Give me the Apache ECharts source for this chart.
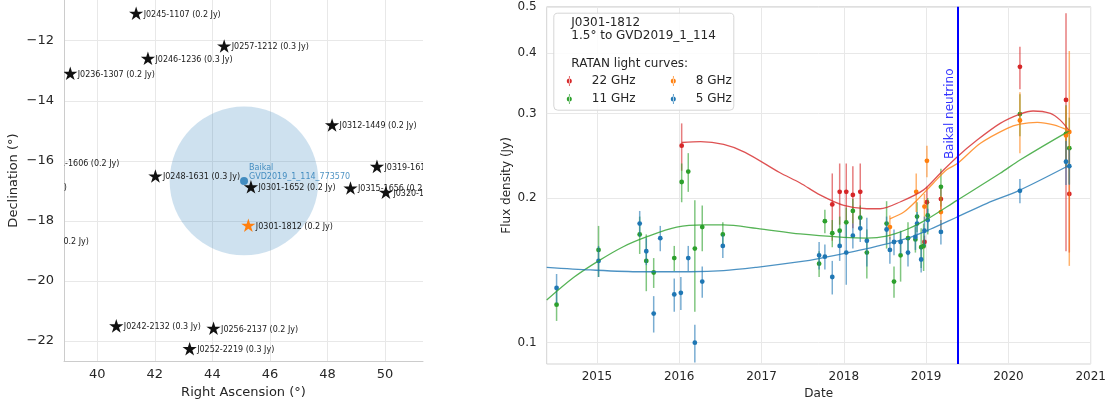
<!DOCTYPE html>
<html>
<head>
<meta charset="utf-8">
<script src="https://cdn.jsdelivr.net/npm/echarts@6.0.0/dist/echarts.min.js"></script>
<style>
  html, body { margin: 0; padding: 0; background: #fff; }
  #chart { width: 1111px; height: 409px; }
</style>
</head>
<body>
<div id="chart"></div>
<script>
const FONT = 'DejaVu Sans';
const TEXT = '#262626';
const GRID = '#e8e8e8';
const SPINE = '#cccccc';

// 左图：GVD2019_1_114 周围的射电源
const starNames = ['J0245-1107', 'J0257-1212', 'J0246-1236', 'J0236-1307', 'J0312-1449', 'J0319-1612',
  'J0248-1631', 'J0301-1652', 'J0315-1656', 'J0320-1704', 'J0242-2132', 'J0256-2137', 'J0252-2219',
  'J0231-1606', 'J0224-1654', 'J0227-1840'];
const starFlux = [0.2, 0.3, 0.3, 0.2, 0.2, 0.2, 0.3, 0.2, 0.2, 0.2, 0.3, 0.2, 0.3, 0.2, 0.2, 0.2];
const starRA = [41.35, 44.41, 41.76, 39.06, 48.16, 49.72, 42.02, 45.34, 48.80, 50.03, 40.66, 44.04, 43.21,
  37.83, 36.00, 36.77];
const starDec = [-11.11, -12.20, -12.61, -13.11, -14.83, -16.21, -16.53, -16.89, -16.93, -17.07, -21.52,
  -21.60, -22.28, -16.08, -16.90, -18.67];
const targetName = 'J0301-1812';
const targetFlux = 0.2;
const targetRA = 45.25;
const targetDec = -18.17;
const baikalName = 'GVD2019_1_114_773570';
const baikalRA = 45.10;
const baikalDec = -16.67;
const baikalRadius = 2.53;
const raTicks = [40, 42, 44, 46, 48, 50];
const decTicks = [-22, -20, -18, -16, -14, -12];

// 右图：RATAN 光变曲线
const yrs22 = [2016.03, 2017.86, 2017.95, 2018.03, 2018.11, 2018.20, 2018.98, 2019.01, 2019.18, 2020.14, 2020.70, 2020.74];
const flux22 = [0.257, 0.194, 0.206, 0.206, 0.203, 0.206, 0.162, 0.196, 0.199, 0.375, 0.320, 0.204];
const err22 = [0.029, 0.031, 0.030, 0.030, 0.030, 0.030, 0.005, 0.015, 0.010, 0.038, 0.165, 0.050];

const yrs11 = [2014.51, 2015.02, 2015.52, 2015.60, 2015.69, 2015.94, 2016.03, 2016.11, 2016.19, 2016.28,
  2016.53, 2017.70, 2017.77, 2017.86, 2017.95, 2018.03, 2018.11, 2018.20, 2018.28, 2018.52,
  2018.61, 2018.69, 2018.78, 2018.87, 2018.89, 2018.94, 2018.97, 2019.02, 2019.18, 2020.14,
  2020.70, 2020.74];
const flux11 = [0.120, 0.156, 0.168, 0.148, 0.140, 0.150, 0.216, 0.227, 0.157, 0.174,
  0.168, 0.146, 0.179, 0.169, 0.171, 0.178, 0.188, 0.182, 0.154, 0.177,
  0.134, 0.152, 0.165, 0.164, 0.183, 0.158, 0.159, 0.184, 0.211, 0.299,
  0.272, 0.254];
const err11 = [0.009, 0.019, 0.015, 0.020, 0.010, 0.009, 0.020, 0.021, 0.041, 0.019,
  0.010, 0.009, 0.010, 0.011, 0.012, 0.013, 0.011, 0.011, 0.018, 0.020,
  0.010, 0.018, 0.013, 0.010, 0.013, 0.015, 0.018, 0.016, 0.019, 0.030,
  0.040, 0.040];

const yrs8 = [2018.56, 2018.88, 2018.98, 2019.01, 2019.18, 2020.14, 2020.70, 2020.74];
const flux8 = [0.174, 0.206, 0.192, 0.239, 0.187, 0.290, 0.270, 0.2745];
const err8 = [0.010, 0.019, 0.012, 0.018, 0.015, 0.042, 0.040, 0.130];

const yrs5 = [2014.51, 2015.02, 2015.52, 2015.60, 2015.69, 2015.77, 2015.94, 2016.02, 2016.11, 2016.19,
  2016.28, 2016.53, 2017.70, 2017.77, 2017.86, 2017.95, 2018.03, 2018.11, 2018.20, 2018.28,
  2018.52, 2018.56, 2018.61, 2018.69, 2018.78, 2018.87, 2018.89, 2018.94, 2018.98, 2019.02,
  2019.18, 2020.14, 2020.70, 2020.74];
const flux5 = [0.130, 0.148, 0.177, 0.155, 0.115, 0.165, 0.126, 0.127, 0.150, 0.100,
  0.134, 0.159, 0.152, 0.151, 0.137, 0.159, 0.154, 0.167, 0.173, 0.163,
  0.172, 0.156, 0.162, 0.162, 0.154, 0.166, 0.177, 0.149, 0.171, 0.180,
  0.170, 0.207, 0.238, 0.233];
const err5 = [0.009, 0.011, 0.011, 0.010, 0.010, 0.010, 0.010, 0.010, 0.009, 0.009,
  0.010, 0.009, 0.010, 0.009, 0.011, 0.011, 0.022, 0.010, 0.011, 0.019,
  0.011, 0.010, 0.010, 0.009, 0.010, 0.010, 0.010, 0.009, 0.012, 0.010,
  0.010, 0.012, 0.025, 0.020];

// 拟合曲线
const fitYrs22 = [2016.03, 2016.26, 2016.54, 2016.80, 2017.22, 2017.47, 2017.71, 2018.00, 2018.28, 2018.44,
  2018.69, 2018.97, 2019.17, 2019.37, 2019.62, 2019.90, 2020.14, 2020.30, 2020.51, 2020.63, 2020.74];
const fitFlux22 = [0.261, 0.262, 0.2585, 0.249, 0.226, 0.215, 0.203, 0.193, 0.190, 0.190,
  0.1965, 0.208, 0.225, 0.243, 0.264, 0.286, 0.299, 0.3035, 0.300, 0.2905, 0.276];
const fitYrs8 = [2018.56, 2018.73, 2018.89, 2019.09, 2019.25, 2019.38, 2019.66, 2019.98, 2020.14, 2020.35, 2020.55, 2020.74];
const fitFlux8 = [0.181, 0.187, 0.198, 0.215, 0.229, 0.236, 0.260, 0.279, 0.285, 0.2875, 0.284, 0.276];
const fitYrs11 = [2014.39, 2014.72, 2015.02, 2015.32, 2015.61, 2015.97, 2016.30, 2016.54, 2016.94, 2017.47,
  2018.00, 2018.28, 2018.52, 2018.77, 2019.01, 2019.37, 2019.90, 2020.14, 2020.74];
const fitFlux11 = [0.1227, 0.1368, 0.148, 0.1584, 0.1662, 0.1739, 0.1758, 0.1758, 0.173, 0.1684,
  0.1657, 0.1651, 0.1667, 0.1722, 0.1806, 0.1975, 0.2252, 0.240, 0.276];
const fitYrs5 = [2014.39, 2014.92, 2015.53, 2016.13, 2016.54, 2016.94, 2017.47, 2017.71, 2018.24, 2018.77,
  2019.05, 2019.37, 2019.74, 2020.14, 2020.74];
const fitFlux5 = [0.1435, 0.1417, 0.1405, 0.1405, 0.1412, 0.1435, 0.1474, 0.1498, 0.1564, 0.1649,
  0.1722, 0.1824, 0.195, 0.2078, 0.234];

const yearTicks = [2015, 2016, 2017, 2018, 2019, 2020, 2021];
const fluxTicks = [0.1, 0.2, 0.3, 0.4, 0.5];
const neutrinoYear = 2019.38;
const neutrinoLabelFlux = 0.241;

const bandColors = { '22 GHz': '#d62728', '11 GHz': '#2ca02c', '8 GHz': '#ff7f0e', '5 GHz': '#1f77b4' };
const errIcon = 'path://M2.15,0H2.85V10H2.15Z M0,5A2.5,2.5,0,1,0,5,5A2.5,2.5,0,1,0,0,5Z';

/**
 * 五角星顶点
 */
function starPoints(cx, cy, r) {
  const pts = [];
  for (let k = 0; k < 10; k++) {
    const a = Math.PI * k / 5;
    const rr = k % 2 ? r * 0.382 : r;
    pts.push([cx + rr * Math.sin(a), cy - rr * Math.cos(a)]);
  }
  return pts;
}

function starRenderer(names, fluxes, color) {
  return function (params, api) {
    const p = api.coord([api.value(0), api.value(1)]);
    const i = params.dataIndex;
    return {
      type: 'group',
      children: [
        { type: 'polygon', shape: { points: starPoints(p[0], p[1], 7.5) }, style: { fill: color } },
        {
          type: 'text',
          style: {
            text: names[i] + ' (' + fluxes[i] + ' Jy)',
            x: p[0] + 7.5, y: p[1] + 0.5,
            verticalAlign: 'middle', align: 'left',
            fill: '#1a1a1a', fontSize: 8, fontFamily: FONT
          }
        }
      ]
    };
  };
}

function errorBarRenderer(color) {
  return function (params, api) {
    const x = api.value(0);
    const p = api.coord([x, api.value(1)]);
    const lo = api.coord([x, api.value(2)]);
    const hi = api.coord([x, api.value(3)]);
    return {
      type: 'group',
      children: [
        { type: 'line', shape: { x1: lo[0], y1: lo[1], x2: hi[0], y2: hi[1] },
          style: { stroke: color, lineWidth: 1.5, opacity: 0.6 } },
        { type: 'circle', shape: { cx: p[0], cy: p[1], r: 2.4 }, style: { fill: color } }
      ]
    };
  };
}

function errorSeries(name, yrs, flux, err) {
  return {
    name: name,
    type: 'custom',
    xAxisIndex: 1,
    yAxisIndex: 1,
    itemStyle: { color: bandColors[name] },
    encode: { x: 0, y: 1 },
    data: yrs.map((t, i) => [t, Math.log10(flux[i]), Math.log10(flux[i] - err[i]), Math.log10(flux[i] + err[i])]),
    renderItem: errorBarRenderer(bandColors[name])
  };
}

function fitSeries(name, yrs, flux) {
  return {
    name: 'fit ' + name,
    type: 'line',
    xAxisIndex: 1,
    yAxisIndex: 1,
    showSymbol: false,
    smooth: 0.3,
    lineStyle: { color: bandColors[name], width: 1.3, opacity: 0.8 },
    data: yrs.map((t, i) => [t, Math.log10(flux[i])])
  };
}

const axisFont = { fontFamily: FONT, color: TEXT };
const legendCommon = {
  orient: 'vertical', top: 75, padding: 0,
  itemWidth: 5, itemHeight: 10, itemGap: 6, icon: errIcon,
  selectedMode: false, z: 10,
  textStyle: { fontSize: 12, color: TEXT, fontFamily: FONT, padding: [0, 0, 0, 15] }
};

const chartOpts = {
  animation: false,
  backgroundColor: '#fff',
  title: {
    text: targetName + '\n1.5° to GVD2019_1_114\n\nRATAN light curves:',
    left: 553.3,
    top: 12.7,
    padding: [3, 18, 40, 18],
    backgroundColor: 'rgba(255,255,255,0.85)',
    borderColor: '#d6d6d6',
    borderWidth: 1,
    borderRadius: 4,
    textStyle: { fontSize: 12, fontWeight: 'normal', color: TEXT, fontFamily: FONT, lineHeight: 13.7 },
    z: 5
  },
  legend: [
    { ...legendCommon, data: ['22 GHz', '11 GHz'], left: 566.8 },
    { ...legendCommon, data: ['8 GHz', '5 GHz'], left: 670.8 }
  ],
  grid: [
    { left: 64, top: 0, width: 359, height: 361, outerBoundsMode: 'none' },
    { left: 546.7, top: 6.8, width: 544, height: 357.2, outerBoundsMode: 'none',
      show: true, borderColor: '#d3d3d3', borderWidth: 1, backgroundColor: 'transparent' }
  ],
  xAxis: [
    {
      gridIndex: 0, type: 'value', min: 38.843, max: 51.32,
      name: 'Right Ascension (°)', nameLocation: 'middle', nameGap: 25, nameMoveOverlap: false,
      nameTextStyle: { fontSize: 13, ...axisFont },
      axisLine: { show: true, lineStyle: { color: SPINE } },
      axisTick: { show: false, customValues: raTicks },
      axisLabel: { customValues: raTicks, fontSize: 13, margin: 7, ...axisFont },
      splitLine: { show: true, lineStyle: { color: GRID } }
    },
    {
      gridIndex: 1, type: 'value', min: 2014.39, max: 2021.0,
      name: 'Date', nameLocation: 'middle', nameGap: 24, nameMoveOverlap: false,
      nameTextStyle: { fontSize: 12, ...axisFont },
      axisLine: { show: false },
      axisTick: { show: false, customValues: yearTicks },
      axisLabel: { customValues: yearTicks, fontSize: 12, margin: 7, formatter: v => String(Math.round(v)), ...axisFont },
      splitLine: { show: true, lineStyle: { color: GRID } }
    }
  ],
  yAxis: [
    {
      gridIndex: 0, type: 'value', min: -22.666, max: -10.645,
      name: 'Declination (°)', nameLocation: 'middle', nameGap: 44, nameMoveOverlap: false,
      nameTextStyle: { fontSize: 13, ...axisFont },
      axisLine: { show: true, lineStyle: { color: SPINE } },
      axisTick: { show: false, customValues: decTicks },
      axisLabel: { customValues: decTicks, fontSize: 13, margin: 10,
        formatter: v => (v < 0 ? '\u2212' + Math.abs(v) : String(v)), ...axisFont },
      splitLine: { show: true, lineStyle: { color: GRID } }
    },
    {
      gridIndex: 1, type: 'value', min: Math.log10(0.0903), max: Math.log10(0.5),
      name: 'Flux density (Jy)', nameLocation: 'middle', nameGap: 34, nameMoveOverlap: false,
      nameTextStyle: { fontSize: 12, ...axisFont },
      axisLine: { show: false },
      axisTick: { show: false, customValues: fluxTicks.map(Math.log10) },
      axisLabel: { customValues: fluxTicks.map(Math.log10), fontSize: 12, margin: 10,
        formatter: v => Math.pow(10, v).toFixed(1), ...axisFont },
      splitLine: { show: true, lineStyle: { color: GRID } }
    }
  ],
  series: [
    {
      name: 'error circle',
      type: 'custom',
      xAxisIndex: 0, yAxisIndex: 0,
      clip: true,
      encode: { x: 0, y: 1 },
      data: [[baikalRA, baikalDec]],
      renderItem: (params, api) => {
        const c = api.coord([api.value(0), api.value(1)]);
        const s = api.size([baikalRadius, baikalRadius]);
        return { type: 'circle', shape: { cx: c[0], cy: c[1], r: (s[0] + s[1]) / 2 },
          style: { fill: 'rgba(31,119,180,0.22)' } };
      }
    },
    {
      name: 'Baikal',
      type: 'scatter',
      xAxisIndex: 0, yAxisIndex: 0,
      symbolSize: 8,
      itemStyle: { color: '#1f77b4' },
      data: [[baikalRA, baikalDec]],
      label: {
        show: true,
        formatter: 'Baikal\n' + baikalName,
        position: [9, 4.5],
        align: 'left', verticalAlign: 'bottom',
        fontSize: 8, lineHeight: 9, color: '#1f77b4', fontFamily: FONT
      }
    },
    {
      name: 'sources',
      type: 'custom',
      xAxisIndex: 0, yAxisIndex: 0,
      clip: true,
      encode: { x: 0, y: 1 },
      data: starRA.map((ra, i) => [ra, starDec[i]]),
      renderItem: starRenderer(starNames, starFlux, '#111111')
    },
    {
      name: 'target',
      type: 'custom',
      xAxisIndex: 0, yAxisIndex: 0,
      clip: true,
      encode: { x: 0, y: 1 },
      data: [[targetRA, targetDec]],
      renderItem: starRenderer([targetName], [targetFlux], '#ff7f0e')
    },
    errorSeries('22 GHz', yrs22, flux22, err22),
    errorSeries('11 GHz', yrs11, flux11, err11),
    errorSeries('8 GHz', yrs8, flux8, err8),
    errorSeries('5 GHz', yrs5, flux5, err5),
    fitSeries('22 GHz', fitYrs22, fitFlux22),
    fitSeries('11 GHz', fitYrs11, fitFlux11),
    fitSeries('8 GHz', fitYrs8, fitFlux8),
    fitSeries('5 GHz', fitYrs5, fitFlux5),
    {
      name: 'neutrino',
      type: 'scatter',
      xAxisIndex: 1, yAxisIndex: 1,
      symbolSize: 0.1,
      itemStyle: { color: 'rgba(0,0,0,0)' },
      data: [[neutrinoYear, Math.log10(neutrinoLabelFlux)]],
      label: {
        show: true,
        formatter: 'Baikal neutrino',
        position: 'inside',
        rotate: 90,
        align: 'left', verticalAlign: 'bottom',
        offset: [0, -1],
        fontSize: 12, color: '#0000ff', fontFamily: FONT
      },
      markLine: {
        silent: true,
        symbol: 'none',
        label: { show: false },
        lineStyle: { color: '#0000ff', width: 2, type: 'solid' },
        data: [{ xAxis: neutrinoYear }]
      }
    }
  ]
};

const chart = echarts.init(document.getElementById('chart'));
chart.setOption(chartOpts);
</script>
</body>
</html>
